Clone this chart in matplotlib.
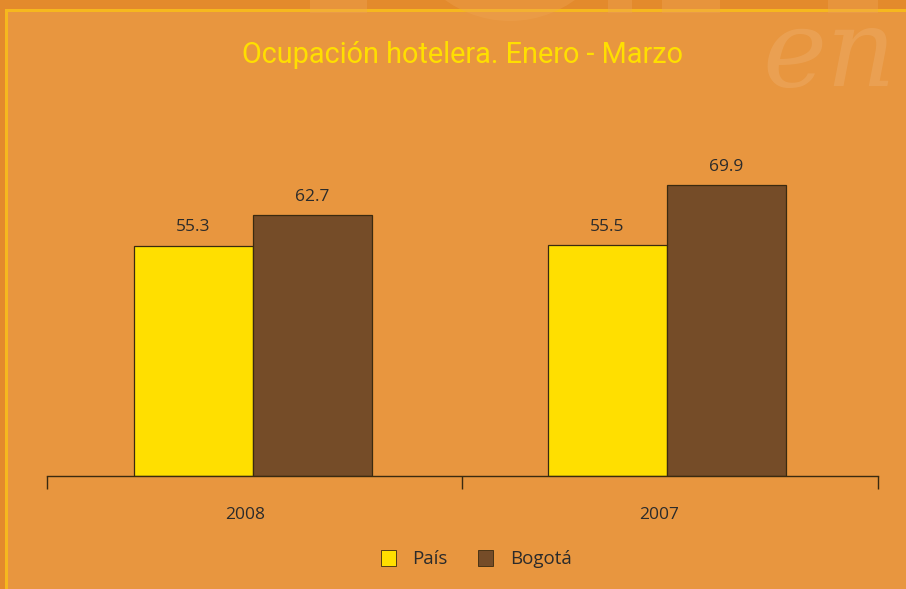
import matplotlib
matplotlib.use("Agg")
import matplotlib.pyplot as plt
from matplotlib.patches import Rectangle, Patch, Ellipse
import numpy as np

categories = ["2008", "2007"]
series_names = ["País", "Bogotá"]
pais = [55.3, 55.5]
bogota = [62.7, 69.9]
title = "Ocupación hotelera. Enero - Marzo"

BG = "#E8963F"
OUTER = "#E38A2C"
FRAME = "#F6B81E"
YELLOW = "#FFDF00"
BROWN = "#754C28"
TXT = "#2B2B2B"
EDGE = "#3a2a10"

fig = plt.figure(figsize=(9.06, 5.89), dpi=100)
fig.patch.set_facecolor(BG)
W, H = 906, 589

def fx(px):
    return px / W

def fy(py):
    return 1 - py / H

def frect(x0, y0, x1, y1, color, z, alpha=1.0):
    fig.patches.append(Rectangle((fx(x0), fy(y1)), (x1 - x0) / W, (y1 - y0) / H,
                                 transform=fig.transFigure, facecolor=color,
                                 edgecolor="none", zorder=z, alpha=alpha))

# outer darker frame strips
frect(0, 0, W, 9, OUTER, 0)
frect(0, 0, 5, H, OUTER, 0)
# yellow frame lines
frect(5, 9, W, 12, FRAME, 1)
frect(5, 9, 8, H, FRAME, 1)
# faint watermark shapes along the top edge
for a, b in [(310, 367), (608, 632), (662, 720), (828, 878)]:
    frect(a, 0, b, 13, "#EFA555", 2, alpha=0.4)
fig.patches.append(Ellipse((fx(510), fy(-90)), 222 / W, 222 / H, transform=fig.transFigure,
                           facecolor="#EFA555", edgecolor="none", alpha=0.35, zorder=2))
# decorative watermark
fig.text(fx(762), fy(86), "en", fontsize=78, family="DejaVu Serif", style="italic",
         color="white", alpha=0.10, ha="left", va="baseline")

ax = fig.add_axes([fx(47), fy(476), fx(878) - fx(47), (476 - 143) / H])
ax.set_facecolor("none")
x = np.arange(len(categories))
w = 0.288
ax.bar(x - w / 2, pais, width=w, color=YELLOW, edgecolor=EDGE, linewidth=0.9, zorder=2)
ax.bar(x + w / 2, bogota, width=w, color=BROWN, edgecolor=EDGE, linewidth=0.9, zorder=2)
ax.set_xlim(-0.4976, 1.5097)
ax.set_ylim(0, 80)

for xi, v in zip(x - w / 2, pais):
    ax.text(xi, v + 2.5, f"{v:.1f}", ha="center", va="bottom", fontsize=12.5,
            family="Open Sans", color=TXT)
for xi, v in zip(x + w / 2, bogota):
    ax.text(xi, v + 2.5, f"{v:.1f}", ha="center", va="bottom", fontsize=12.5,
            family="Open Sans", color=TXT)

for s in ["top", "right", "left"]:
    ax.spines[s].set_visible(False)
ax.spines["bottom"].set_color(EDGE)
ax.spines["bottom"].set_linewidth(1.0)
ax.set_yticks([])
ax.set_xticks([-0.4976, 0.5048, 1.5097])
ax.set_xticklabels([])
ax.tick_params(axis="x", length=9, width=1.0, color=EDGE, direction="out")
ax.set_xticks(x - 0.018, minor=True)
ax.set_xticklabels(categories, minor=True, fontsize=12.5, family="Open Sans", color=TXT)
ax.tick_params(axis="x", which="minor", length=0, pad=22)

fig.text(fx(463), fy(55), title, ha="center", va="center", fontsize=20.8,
         family="Roboto", color=YELLOW)

handles = [Patch(facecolor=YELLOW, edgecolor=EDGE, linewidth=0.6, label=series_names[0]),
           Patch(facecolor=BROWN, edgecolor=EDGE, linewidth=0.6, label=series_names[1])]
fig.legend(handles=handles, loc="center", bbox_to_anchor=(fx(476), fy(559)), ncol=2,
           frameon=False, handlelength=0.8, handleheight=1.0, handletextpad=0.9,
           columnspacing=1.6, prop={"family": "Open Sans", "size": 13.5},
           labelcolor=TXT)

fig.savefig("out.png", dpi=100, facecolor=fig.get_facecolor())
